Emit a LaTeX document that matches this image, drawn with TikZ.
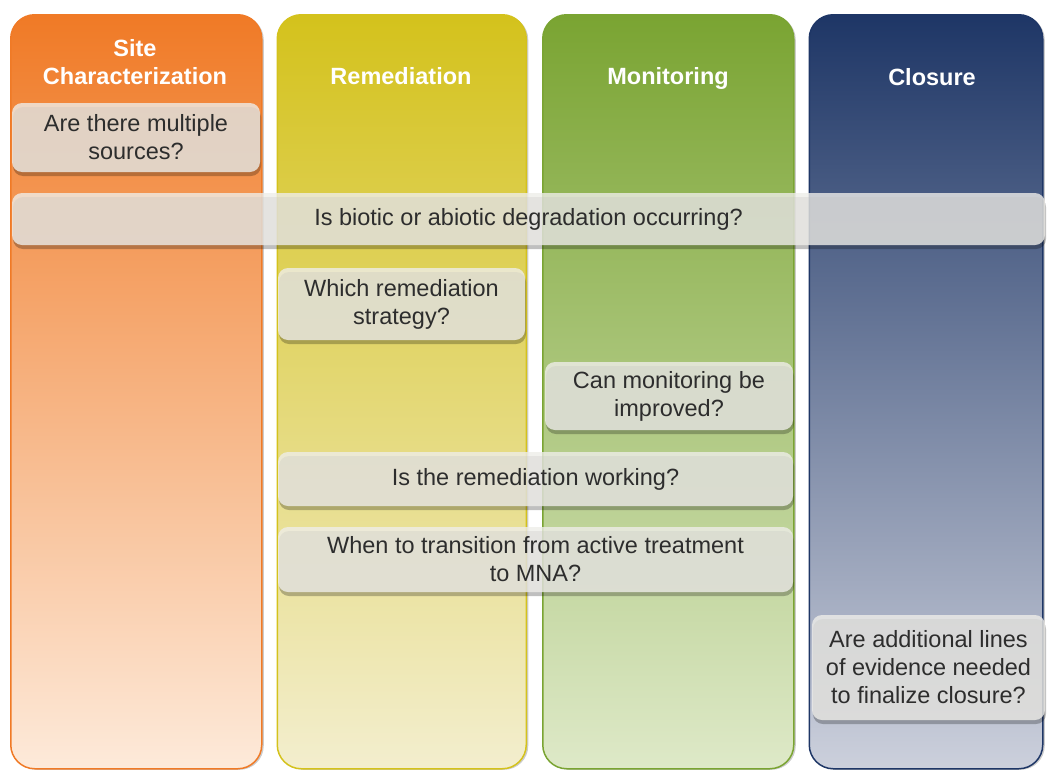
\documentclass[tikz,border=0pt]{standalone}
\usepackage{fontspec}
\setmainfont{Liberation Sans}
\usetikzlibrary{positioning, shadows}

\definecolor{sitetop}{RGB}{240,122,38}
\definecolor{sitemid}{RGB}{249,166,104}
\definecolor{sitebot}{RGB}{253,234,218}
\definecolor{remtop}{RGB}{212,194,28}
\definecolor{remmid}{RGB}{226,216,110}
\definecolor{rembot}{RGB}{243,238,206}
\definecolor{montop}{RGB}{122,164,50}
\definecolor{monmid}{RGB}{166,196,106}
\definecolor{monbot}{RGB}{222,233,200}
\definecolor{clotop}{RGB}{30,54,102}
\definecolor{clomid}{RGB}{62,80,120}
\definecolor{clobot}{RGB}{204,208,220}
\definecolor{qfill}{RGB}{238,237,233}
\definecolor{qtext}{RGB}{45,45,45}

\begin{document}
\begin{tikzpicture}[x=1pt, y=-1pt,
  col/.style = {rounded corners=24pt, line width=1.5pt, anchor=north west, inner sep=0pt, outer sep=0pt,
    minimum height=754pt, drop shadow={shadow xshift=2pt, shadow yshift=-1pt, fill=black, opacity=.2}},
  head/.style = {text=white, align=center, font=\fontsize{23.5}{28}\selectfont\bfseries},
  q/.style = {rounded corners=10pt, fill=qfill, fill opacity=.8, text opacity=1, text=qtext,
    align=center, inner sep=0pt, font=\fontsize{23.5}{28}\selectfont,
    drop shadow={shadow xshift=1pt, shadow yshift=-4pt, fill=black, opacity=.25}}]
  \useasboundingbox (0,0) rectangle (1047,771);

  % the four phases
  \node[col, minimum width=251pt, draw=sitetop, top color=sitetop, middle color=sitemid, bottom color=sitebot] (site) at (10.75,14.75) {};
  \node[col, minimum width=249pt, draw=remtop, top color=remtop, middle color=remmid, bottom color=rembot, right=15.5pt of site] (rem) {};
  \node[col, minimum width=251pt, draw=montop, top color=montop, middle color=monmid, bottom color=monbot, right=16.5pt of rem] (mon) {};
  \node[col, minimum width=233.5pt, draw=clotop, top color=clotop, middle color=clomid, bottom color=clobot, right=15.5pt of mon] (clo) {};

  \node[head] (sitehead) at (135,62) {Site\\Characterization};
  \node[head, anchor=base] (remhead) at (401,84) {Remediation};
  \node[head, anchor=base] (monhead) at (668,84) {Monitoring};
  \node[head, anchor=base] (clohead) at (932,85) {Closure};

  % questions
  \node[q, minimum width=248pt, minimum height=69pt] (sources) at (136,137.5) {Are there multiple\\sources?};
  \node[q, minimum width=1033pt, minimum height=52pt] (degrade) at (528.5,219) {Is biotic or abiotic degradation occurring?};
  \node[q, minimum width=247pt, minimum height=72pt] (strategy) at (401.5,304) {Which remediation\\strategy?};
  \node[q, minimum width=248pt, minimum height=68pt] (improve) at (669,396) {Can monitoring be\\improved?};
  \node[q, minimum width=515pt, minimum height=54pt] (working) at (535.5,479) {Is the remediation working?};
  \node[q, minimum width=515pt, minimum height=65pt] (mna) at (535.5,559.5) {When to transition from active treatment\\to MNA?};
  \node[q, minimum width=233pt, minimum height=105pt] (evidence) at (928.5,667.5) {Are additional lines\\of evidence needed\\to finalize closure?};
\end{tikzpicture}
\end{document}
